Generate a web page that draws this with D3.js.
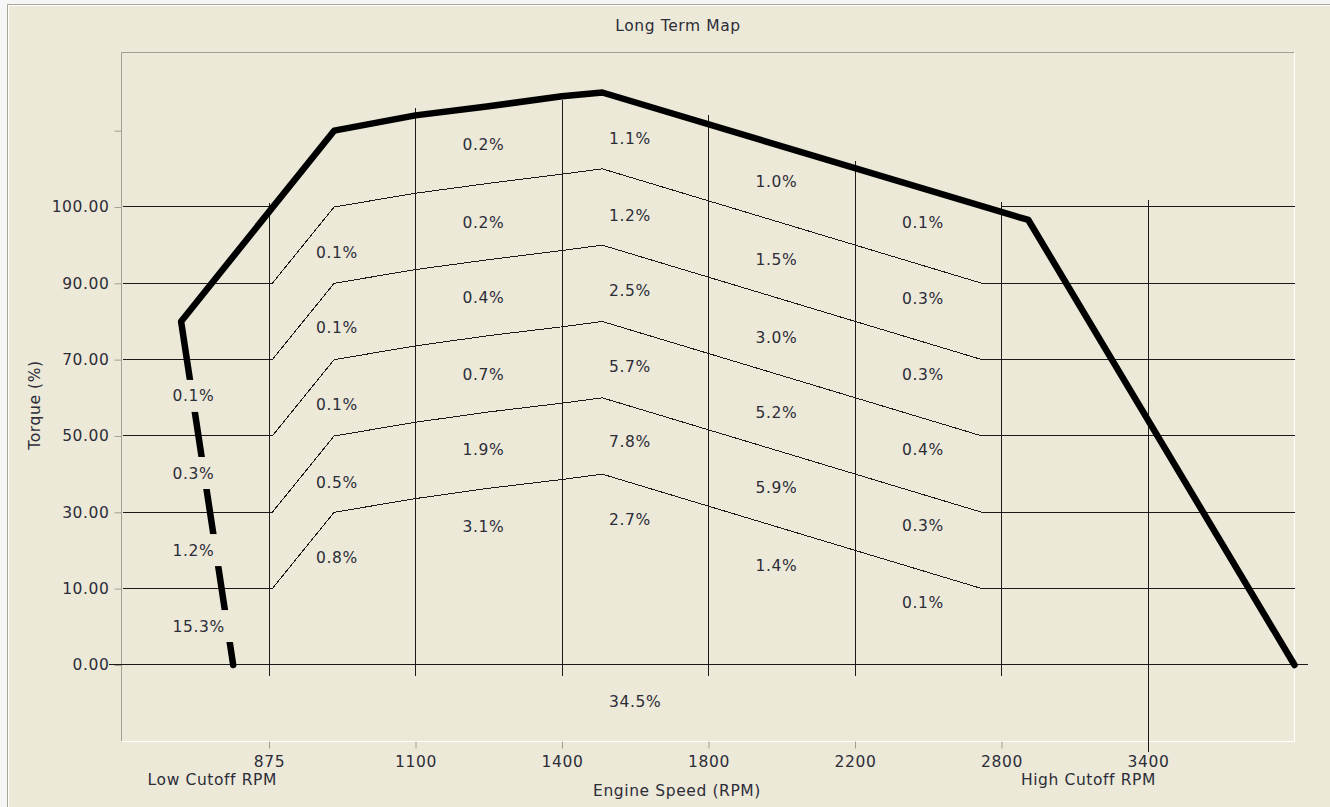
<!DOCTYPE html>
<html>
<head>
<meta charset="utf-8">
<script src="https://cdn.jsdelivr.net/npm/d3@7"></script>
<style>
  html, body { margin: 0; padding: 0; background: #f6f6f6; }
  svg { display: block; }
  text { font-family: "DejaVu Sans", sans-serif; font-size: 15.5px; letter-spacing: 0.6px; fill: #2d2d38; }
</style>
</head>
<body>
<svg id="chart" width="1330" height="807"></svg>
<script>
// axis stops - each tick gets the same width, so the rpm axis is piecewise
var rpmStops = [650, 875, 1100, 1400, 1800, 2200, 2800, 3400, 4000];
var rpmTicks = [875, 1100, 1400, 1800, 2200, 2800, 3400];
var torqueStops = [-10, 0, 10, 30, 50, 70, 90, 100, 110, 120];
var torqueTicks = [0, 10, 30, 50, 70, 90, 100, 110];

// full load torque curve [rpm, torque %]
var torqueCurve = [[820, 0], [740, 80], [975, 110], [1100, 112], [1250, 113.2], [1400, 114.5], [1510, 115], [2910, 98.3], [4000, 0]];

// part load bands
var band90 = [[650, 90], [880, 90], [975, 100], [1100, 101.8], [1250, 103.1], [1400, 104.3], [1510, 105], [2720, 90], [4000, 90]];
var band70 = [[650, 70], [880, 70], [975, 90], [1100, 91.8], [1250, 93.1], [1400, 94.3], [1510, 95], [2720, 70], [4000, 70]];
var band50 = [[650, 50], [880, 50], [975, 70], [1100, 73.6], [1250, 76.3], [1400, 78.6], [1510, 80], [2720, 50], [4000, 50]];
var band30 = [[650, 30], [880, 30], [975, 50], [1100, 53.6], [1250, 56.3], [1400, 58.6], [1510, 60], [2720, 30], [4000, 30]];
var band10 = [[650, 10], [880, 10], [975, 30], [1100, 33.6], [1250, 36.3], [1400, 38.6], [1510, 40], [2720, 10], [4000, 10]];
var level100 = [[[650, 100], [875, 100]], [[2800, 100], [4000, 100]]];

// vertical grid extent per tick (torque %)
var gridTop = [100.5, 113, 114, 112, 106, 100.7, 100.9];
var gridBottom = [-1.5, -1.5, -1.5, -1.5, -1.5, -1.5, -11.4];

// time share per zone, by column (left rpm of zone) and torque position
var lowCutoffPct = ["0.1%", "0.3%", "1.2%", "15.3%"];
var lowCutoffAt = [60.5, 40.3, 20.1, 5.1];
var col875Pct = ["0.1%", "0.1%", "0.1%", "0.5%", "0.8%"];
var col875At = [94, 78.4, 58.4, 37.8, 18.2];
var col1100Pct = ["0.2%", "0.2%", "0.4%", "0.7%", "1.9%", "3.1%"];
var col1100At = [108.2, 98, 86.3, 66.2, 46.6, 26.4];
var col1400Pct = ["1.1%", "1.2%", "2.5%", "5.7%", "7.8%", "2.7%", "34.5%"];
var col1400At = [109, 98.9, 88.2, 68.3, 48.7, 28.1, -4.8];
var col1800Pct = ["1.0%", "1.5%", "3.0%", "5.2%", "5.9%", "1.4%"];
var col1800At = [103.3, 93.1, 75.9, 56.3, 36.4, 16.2];
var col2200Pct = ["0.1%", "0.3%", "0.3%", "0.4%", "0.3%", "0.1%"];
var col2200At = [98, 86, 66.1, 46.5, 26.5, 8.2];

var cutoffNames = ["Low Cutoff RPM", "High Cutoff RPM"];
var cutoffRpm = [875, 3400];

var bg = "#ECE9D8";
var svg = d3.select("#chart");

// window panel
svg.append("rect").attr("x", 7).attr("y", 4).attr("width", 1323).attr("height", 803).attr("fill", bg);
svg.append("path").attr("d", "M7.5,807V4.5H1330").attr("fill", "none").attr("stroke", "#a8a597");
svg.append("path").attr("d", "M8.5,807V5.5H1330").attr("fill", "none").attr("stroke", "#ffffff");

var plotLeft = 121, plotTop = 52, plotRight = 1294, plotBottom = 741;

var x = d3.scaleLinear()
    .domain(rpmStops)
    .range(rpmStops.map(function(d, i) { return 122.5 + i * 146.5; }));
var y = d3.scaleLinear()
    .domain(torqueStops)
    .range(torqueStops.map(function(d, i) { return 741.3 - i * 76.33; }));

// plot frame (sunken)
svg.append("path").attr("d", "M" + (plotLeft + 0.5) + "," + plotBottom + "V" + (plotTop + 0.5) + "H" + plotRight)
    .attr("fill", "none").attr("stroke", "#a3a091");
svg.append("path").attr("d", "M" + (plotLeft + 1) + "," + (plotBottom + 0.5) + "H" + (plotRight + 0.5) + "V" + (plotTop + 1))
    .attr("fill", "none").attr("stroke", "#ffffff");

// axes
var yAxis = svg.append("g")
    .attr("transform", "translate(" + (plotLeft + 0.5) + ",0)")
    .call(d3.axisLeft(y).tickValues(torqueTicks).tickSize(7).tickPadding(5)
      .tickFormat(function(d) { return d === 110 ? "" : d3.format(".2f")(d); }));
var xAxis = svg.append("g")
    .attr("transform", "translate(0," + (plotBottom + 0.5) + ")")
    .call(d3.axisBottom(x).tickValues(rpmTicks).tickSize(7).tickPadding(7).tickFormat(d3.format("d")));
[yAxis, xAxis].forEach(function(a) {
  a.select(".domain").remove();
  a.selectAll(".tick line").attr("stroke", "#a3a091");
  a.selectAll(".tick text").attr("fill", "#2d2d38")
    .style("font-family", "DejaVu Sans, sans-serif").style("font-size", "15.5px");
});

var g = svg.append("g").attr("shape-rendering", "crispEdges");
var line = d3.line().x(function(d) { return x(d[0]); }).y(function(d) { return y(d[1]); });

// horizontal zero line runs a bit past the frame
g.append("line")
    .attr("x1", x.range()[0] - 14).attr("x2", x.range()[x.range().length - 1] + 13)
    .attr("y1", y(0)).attr("y2", y(0))
    .attr("stroke", "#1a1a1a");

g.selectAll(".vgrid")
    .data(rpmTicks)
  .enter().append("line")
    .attr("class", "vgrid")
    .attr("x1", function(d) { return x(d); }).attr("x2", function(d) { return x(d); })
    .attr("y1", function(d, i) { return y(gridTop[i]); })
    .attr("y2", function(d, i) { return y(gridBottom[i]); })
    .attr("stroke", "#1a1a1a");

g.selectAll(".band")
    .data([band90, band70, band50, band30, band10].concat(level100))
  .enter().append("path")
    .attr("class", "band")
    .attr("d", line)
    .attr("fill", "none")
    .attr("stroke", "#1a1a1a")
    .attr("stroke-width", 1);

svg.append("path")
    .datum(torqueCurve)
    .attr("d", line)
    .attr("fill", "none")
    .attr("stroke", "#000")
    .attr("stroke-width", 6.5)
    .attr("stroke-linejoin", "round")
    .attr("stroke-linecap", "round");

// zone labels, left aligned inside each column
var columns = [
  {rpm: 650, pct: lowCutoffPct, at: lowCutoffAt, mask: true},
  {rpm: 875, pct: col875Pct, at: col875At},
  {rpm: 1100, pct: col1100Pct, at: col1100At},
  {rpm: 1400, pct: col1400Pct, at: col1400At},
  {rpm: 1800, pct: col1800Pct, at: col1800At},
  {rpm: 2200, pct: col2200Pct, at: col2200At}
];
var pad = 47;
columns.forEach(function(c) {
  c.pct.forEach(function(p, i) {
    var tx = x(c.rpm) + (c.mask ? 50 : pad);
    var ty = y(c.at[i]);
    if (c.mask) {
      var w = p.length * 10.5;
      svg.append("rect").attr("x", tx - 4).attr("y", ty - 16)
        .attr("width", w + 12).attr("height", 32).attr("fill", bg);
    }
    svg.append("text")
      .attr("x", tx).attr("y", ty).attr("dy", "0.36em")
      .text(p);
  });
});

// titles
svg.append("text").attr("x", 678).attr("y", 31).attr("text-anchor", "middle").text("Long Term Map");
svg.append("text").attr("x", 677).attr("y", 796).attr("text-anchor", "middle").text("Engine Speed (RPM)");
svg.append("text").attr("transform", "translate(40,405) rotate(-90)").attr("text-anchor", "middle").text("Torque (%)");

svg.selectAll(".cutoff")
    .data(cutoffNames)
  .enter().append("text")
    .attr("class", "cutoff")
    .attr("x", function(d, i) { return x(cutoffRpm[i]) + 8; })
    .attr("y", 785)
    .attr("text-anchor", "end")
    .text(function(d) { return d; });
</script>
</body>
</html>
